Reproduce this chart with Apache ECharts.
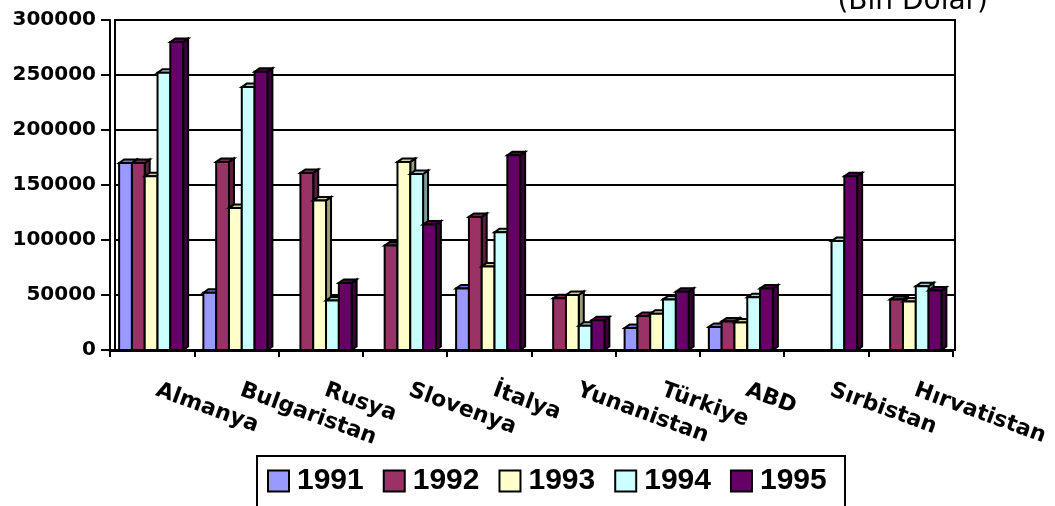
<!DOCTYPE html>
<html><head><meta charset="utf-8">
<script src="https://cdn.jsdelivr.net/npm/echarts@6/dist/echarts.min.js"></script>
<style>html,body{margin:0;padding:0;background:#fff}#c{width:1055px;height:506px}</style>
</head><body><div id="c"></div>
<script>
const categories = ['Almanya','Bulgaristan','Rusya','Slovenya','İtalya','Yunanistan','Türkiye','ABD','Sırbistan','Hırvatistan'];
const years = ['1991','1992','1993','1994','1995'];
const v1991 = [170000, 52000, 0, 0, 56000, 0, 20000, 21000, 0, 0];
const v1992 = [170000, 171000, 161000, 95000, 121000, 47000, 31000, 26000, 0, 46000];
const v1993 = [158000, 129000, 136000, 171000, 76000, 50000, 33000, 25000, 0, 44000];
const v1994 = [252000, 239000, 45000, 160000, 107000, 22000, 46000, 48000, 99000, 58000];
const v1995 = [280000, 253000, 61000, 114000, 177000, 27000, 53000, 56000, 158000, 54000];
const seriesValues = [v1991, v1992, v1993, v1994, v1995];
const yMin = 0, yMax = 300000, yStep = 50000;

const faces = [
  {front:'#9999FF', top:'#7777D8', side:'#5A5AA8'},
  {front:'#993366', top:'#7A2952', side:'#5C1F3D'},
  {front:'#FFFFCC', top:'#D0D0A4', side:'#9E9E7C'},
  {front:'#CCFFFF', top:'#A3D0D0', side:'#7C9E9E'},
  {front:'#660066', top:'#520052', side:'#3D003D'}
];
const FONT = 'DejaVu Sans';
const LFONT = 'Liberation Sans';

function makeRender(si){
  const f = faces[si];
  return function(params, api){
    const val = api.value(1);
    if (!val) return;
    const base = api.coord([api.value(0), 0]);
    const top = api.coord([api.value(0), val]);
    const band = api.size([1, 0])[0];
    const w = band * 0.152;
    const x0 = base[0] - 1 + (si - 2) * w - w / 2;
    const y0 = base[1], y1 = top[1];
    const dx = 5, dy = 3.5;
    const st = {stroke:'#000', lineWidth:2, lineJoin:'miter'};
    return {type:'group', children:[
      {type:'polygon', shape:{points:[[x0+w,y1],[x0+w+dx,y1-dy],[x0+w+dx,y0-dy],[x0+w,y0]]}, style:Object.assign({fill:f.side}, st)},
      {type:'polygon', shape:{points:[[x0,y1],[x0+dx,y1-dy],[x0+w+dx,y1-dy],[x0+w,y1]]}, style:Object.assign({fill:f.top}, st)},
      {type:'rect', shape:{x:x0, y:y1, width:w, height:y0-y1}, style:Object.assign({fill:f.front}, st)}
    ]};
  };
}

const chart = echarts.init(document.getElementById('c'), null, {renderer:'canvas'});
chart.setOption({
  animation:false,
  backgroundColor:'#fff',
  title:{text:'(Bin Dolar)', right:67, top:-12, padding:0,
    textStyle:{fontFamily:FONT, fontWeight:'normal', fontSize:28, color:'#000'}},
  legend:{data:years, left:267, top:466, padding:0, itemWidth:21, itemHeight:21, itemGap:19, icon:'rect',
    itemStyle:{borderColor:'#000', borderWidth:2},
    textStyle:{fontFamily:LFONT, fontWeight:'bold', fontSize:30, color:'#000', padding:[0,0,0,3]}},
  graphic:[{type:'rect', shape:{x:257, y:456, width:588, height:80}, style:{fill:'none', stroke:'#000', lineWidth:2}, z:10}],
  grid:[
    {left:115, right:100, top:20, bottom:156, show:true, borderColor:'#000', borderWidth:2, outerBoundsMode:'none'},
    {left:110, right:102.5, top:20, bottom:156, outerBoundsMode:'none'}
  ],
  xAxis:[
    {type:'category', gridIndex:0, data:categories, show:false},
    {type:'category', gridIndex:1, data:categories,
      axisLine:{show:true, lineStyle:{color:'#000', width:3}},
      axisTick:{show:true, interval:0, length:7, lineStyle:{color:'#000', width:2}},
      axisLabel:{interval:0, rotate:-20, margin:38, padding:[0,0,0,5], fontFamily:FONT, fontWeight:'bold', fontSize:22, color:'#000'},
      splitLine:{show:false}}
  ],
  yAxis:[
    {type:'value', gridIndex:0, min:yMin, max:yMax, interval:yStep,
      axisLine:{show:false}, axisTick:{show:false}, axisLabel:{show:false},
      splitLine:{show:true, lineStyle:{color:'#000', width:2}}},
    {type:'value', gridIndex:1, min:yMin, max:yMax, interval:yStep,
      axisLine:{show:true, lineStyle:{color:'#000', width:2}},
      axisTick:{show:true, length:9, lineStyle:{color:'#000', width:2}},
      axisLabel:{margin:14, formatter:(v) => String(v), fontFamily:FONT, fontWeight:'bold', fontSize:20, color:'#000'},
      splitLine:{show:false}}
  ],
  series: years.map((y, si) => ({
    name:y, type:'custom', xAxisIndex:1, yAxisIndex:1,
    itemStyle:{color:faces[si].front, borderColor:'#000', borderWidth:2},
    renderItem:makeRender(si),
    encode:{x:0, y:1},
    data: seriesValues[si].map((v, i) => [i, v])
  }))
});
</script></body></html>
